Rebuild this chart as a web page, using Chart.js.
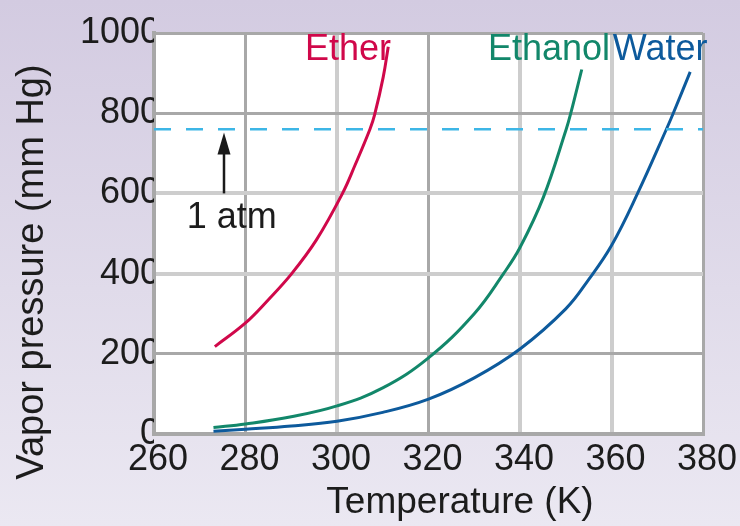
<!DOCTYPE html>
<html>
<head>
<meta charset="utf-8">
<script src="https://cdn.jsdelivr.net/npm/chart.js@4/dist/chart.umd.min.js"></script>
<style>
html, body {
    margin: 0;
    padding: 0;
}
body {
    width: 740px;
    height: 526px;
    background: linear-gradient(180deg, #d3cbe1 0%, #e0dbea 55%, #ebe8f2 100%);
    overflow: hidden;
}
canvas {
    display: block;
}
</style>
</head>
<body>
<canvas id="chart" width="740" height="526"></canvas>
<script>

/* DATA */

const etherT = [273.3, 280, 285, 290.1, 295.5, 301.2, 304, 307.2, 308.2, 310.1, 311.2];
const etherP = [218, 277, 335, 400, 484, 600, 672, 760, 795, 890, 966];

const ethanolT = [273, 280, 290, 300, 310, 320, 330, 336.4, 340, 345.1, 350.1, 351.1, 353.5];
const ethanolP = [16, 25, 43, 70, 115, 190, 300, 400, 465, 590, 760, 800, 909];

const waterT = [273, 280, 290, 300, 310, 320, 330, 340, 350, 355, 360, 365.7, 372, 373.5, 377.2];
const waterP = [7, 12, 20, 32, 54, 87, 140, 212, 312, 385, 470, 600, 760, 800, 903];

const atmT = [260, 380];
const atmP = [760, 760];

const arrowT = 275.3;
const arrowFromP = 600;
const arrowToP = 752;

const xTicks = [260, 280, 300, 320, 340, 360, 380];
const yTicks = [0, 200, 400, 600, 800, 1000];

/* COLORS */

const etherColor = "#d0084a";
const ethanolColor = "#12876a";
const waterColor = "#0d5a9c";
const atmColor = "#3db6e6";
const gridColor = "#a8a8a8";
const gridLight = "#cdcdcd";
const textColor = "#1c1c1c";
const fontFamily = "'Liberation Sans', Arial, Helvetica, sans-serif";

/* grid lines that look lighter in the picture */
const lightX = [300, 340, 360];
const lightY = [400, 600];

function toPoints(xs, ys){
    return xs.map((x, i) => ({ x: x, y: ys[i] }));
}

/* text labels: [text, x value, y value, color, align] */
const curveLabels = [
    ["Ether", 293.0, 958, etherColor, "left"],
    ["Ethanol", 333.0, 958, ethanolColor, "left"],
    ["Water", 360.3, 958, waterColor, "left"],
    ["1 atm", 277.0, 539, textColor, "center"]
];

/* PLUGINS */

const plotBackground = {
    id: "plotBackground",
    beforeDraw(chart){
        const a = chart.chartArea;
        const ctx = chart.ctx;
        ctx.save();
        ctx.fillStyle = "#ffffff";
        ctx.fillRect(a.left, a.top, a.right - a.left, a.bottom - a.top);
        ctx.restore();
    }
};

const extras = {
    id: "extras",
    afterDatasetsDraw(chart){
        const ctx = chart.ctx;
        const x = chart.scales.x;
        const y = chart.scales.y;

        /* arrow */
        const ax = x.getPixelForValue(arrowT);
        const y0 = y.getPixelForValue(arrowFromP);
        const y1 = y.getPixelForValue(arrowToP);
        ctx.save();
        ctx.strokeStyle = "#1a1a1a";
        ctx.fillStyle = "#1a1a1a";
        ctx.lineWidth = 2.5;
        ctx.beginPath();
        ctx.moveTo(ax, y0);
        ctx.lineTo(ax, y1 + 16);
        ctx.stroke();
        ctx.beginPath();
        ctx.moveTo(ax, y1);
        ctx.lineTo(ax - 6.5, y1 + 22);
        ctx.lineTo(ax + 6.5, y1 + 22);
        ctx.closePath();
        ctx.fill();

        /* curve labels */
        ctx.font = "36px " + fontFamily;
        ctx.textBaseline = "middle";
        curveLabels.forEach(l => {
            ctx.fillStyle = l[3];
            ctx.textAlign = l[4];
            ctx.fillText(l[0], x.getPixelForValue(l[1]), y.getPixelForValue(l[2]));
        });

        /* axis titles */
        ctx.fillStyle = textColor;
        ctx.textAlign = "center";
        ctx.font = "37px " + fontFamily;
        ctx.fillText("Temperature (K)", 460, 503);

        ctx.translate(33, 272);
        ctx.rotate(-Math.PI / 2);
        ctx.font = "38px " + fontFamily;
        ctx.fillText("Vapor pressure (mm Hg)", 0, 0);
        ctx.restore();
    }
};

/* CHART */

new Chart(document.getElementById("chart"), {
    type: "line",
    data: {
        datasets: [
            {
                label: "1 atm",
                data: toPoints(atmT, atmP),
                borderColor: atmColor,
                borderWidth: 2.5,
                borderDash: [17, 15],
                pointRadius: 0
            },
            {
                label: "Ether",
                data: toPoints(etherT, etherP),
                borderColor: etherColor,
                borderWidth: 3,
                pointRadius: 0,
                tension: 0.4
            },
            {
                label: "Ethanol",
                data: toPoints(ethanolT, ethanolP),
                borderColor: ethanolColor,
                borderWidth: 3,
                pointRadius: 0,
                tension: 0.4
            },
            {
                label: "Water",
                data: toPoints(waterT, waterP),
                borderColor: waterColor,
                borderWidth: 3,
                pointRadius: 0,
                tension: 0.4
            }
        ]
    },
    options: {
        responsive: false,
        animation: false,
        devicePixelRatio: 1,
        layout: {
            padding: { top: 33, right: 37, left: 0, bottom: 0 }
        },
        plugins: {
            legend: { display: false },
            tooltip: { enabled: false }
        },
        scales: {
            x: {
                type: "linear",
                min: xTicks[0],
                max: xTicks[xTicks.length - 1],
                afterBuildTicks(scale){
                    scale.ticks = xTicks.map(v => ({ value: v }));
                },
                afterFit(scale){
                    scale.height = 92;
                },
                grid: {
                    color: c => lightX.includes(c.tick && c.tick.value) ? gridLight : gridColor,
                    lineWidth: c => lightX.includes(c.tick && c.tick.value) ? 4 : 3,
                    drawTicks: false
                },
                border: { color: gridColor, width: 4 },
                ticks: {
                    color: textColor,
                    padding: 4,
                    labelOffset: 4,
                    maxRotation: 0,
                    font: { size: 36, family: fontFamily },
                    callback: v => String(v)
                }
            },
            y: {
                min: yTicks[0],
                max: yTicks[yTicks.length - 1],
                afterBuildTicks(scale){
                    scale.ticks = yTicks.map(v => ({ value: v }));
                },
                afterFit(scale){
                    scale.width = 154;
                },
                grid: {
                    color: c => lightY.includes(c.tick && c.tick.value) ? gridLight : gridColor,
                    lineWidth: c => lightY.includes(c.tick && c.tick.value) ? 4 : 3,
                    drawTicks: false
                },
                border: { color: gridColor, width: 4 },
                ticks: {
                    color: textColor,
                    padding: -6,
                    font: { size: 36, family: fontFamily },
                    callback: v => String(v)
                }
            }
        }
    },
    plugins: [plotBackground, extras]
});

</script>
</body>
</html>
